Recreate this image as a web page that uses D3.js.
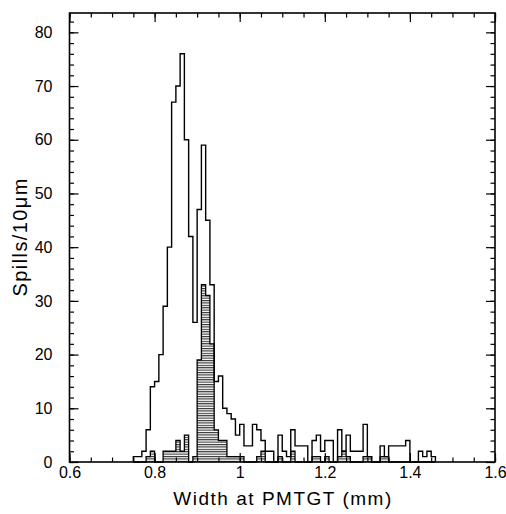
<!DOCTYPE html>
<html>
<head>
<meta charset="utf-8">
<script src="https://cdn.jsdelivr.net/npm/d3@7"></script>
<style>
  body { margin: 0; background: #fff; }
  text { font-family: "Liberation Sans", Arial, Helvetica, sans-serif; fill: #000; }
</style>
</head>
<body>
<div id="chart"></div>
<script>
// histogram bins: 10 um wide, first bin starts at 0.75 mm
var binStart = 0.75;
var binWidth = 0.01;

// all spills
var allSpills = [
  1, 1, 2, 6, 14, 15, 20, 29, 40, 67,
  70, 76, 60, 42, 26, 47, 59, 45, 33, 15,
  16, 10, 9, 8, 5, 7, 3, 3, 7, 6,
  4, 2, 2, 0, 5, 2, 1, 6, 3, 3,
  3, 0, 4, 5, 2, 4, 4, 0, 6, 2,
  5, 2, 2, 2, 7, 1, 0, 0, 3, 1,
  3, 3, 3, 3, 4, 0, 0, 2, 1, 2, 1
];

// hatched subset
var hatchedSpills = [
  0, 0, 0, 1, 2, 0, 0, 2, 2, 2,
  4, 2, 5, 0, 1, 19, 33, 31, 22, 6,
  4, 4, 1, 1, 1, 1, 0, 0, 0, 1,
  2, 0, 0, 0, 1, 0, 0, 2, 0, 0,
  0, 0, 1, 1, 0, 1, 0, 0, 1, 2,
  1, 0, 0, 0, 1, 1, 0, 0, 1, 1,
  0, 0, 0, 0, 0, 0, 0, 0, 0, 0, 0
];

var xTicks = [0.6, 0.8, 1, 1.2, 1.4, 1.6];
var xTickLabels = ["0.6", "0.8", "1", "1.2", "1.4", "1.6"];
var xMinorTicks = d3.range(0, 21).map(function (i) { return 0.6 + i * 0.05; });
var yTicks = [0, 10, 20, 30, 40, 50, 60, 70, 80];
var yMinorTicks = d3.range(0, 42).map(function (i) { return i * 2; });

var width = 506, height = 514;
var plot = { left: 69.5, right: 495, top: 13, bottom: 462 };

var svg = d3.select("#chart")
  .append("svg")
  .attr("width", width)
  .attr("height", height);

var x = d3.scaleLinear().domain([0.6, 1.6]).range([plot.left, plot.right]);
var y = d3.scaleLinear().domain([0, 83.6]).range([plot.bottom, plot.top]);

svg.append("defs")
  .append("pattern")
  .attr("id", "hatch")
  .attr("patternUnits", "userSpaceOnUse")
  .attr("width", 8)
  .attr("height", 2.4)
  .append("line")
  .attr("x1", 0).attr("x2", 8)
  .attr("y1", 0.6).attr("y2", 0.6)
  .attr("stroke", "#000")
  .attr("stroke-width", 0.9);

function stepPoints(counts) {
  var pts = [[binStart, 0]];
  counts.forEach(function (c, i) { pts.push([binStart + i * binWidth, c]); });
  pts.push([binStart + counts.length * binWidth, 0]);
  return pts;
}

var line = d3.line()
  .x(function (d) { return x(d[0]); })
  .y(function (d) { return y(d[1]); })
  .curve(d3.curveStepAfter);

svg.append("path")
  .attr("d", line(stepPoints(hatchedSpills)))
  .attr("fill", "url(#hatch)")
  .attr("stroke", "#000")
  .attr("stroke-width", 1.3);

svg.append("path")
  .attr("d", line(stepPoints(allSpills)))
  .attr("fill", "none")
  .attr("stroke", "#000")
  .attr("stroke-width", 1.4);

// ticks on all four sides, pointing inwards
function ticksOnly(g) {
  g.select(".domain").remove();
  g.selectAll("text").remove();
  g.selectAll("line").attr("stroke-width", 1.2);
}

svg.append("g")
  .attr("transform", "translate(0," + plot.bottom + ")")
  .call(d3.axisBottom(x).tickValues(xMinorTicks).tickSize(-4.5))
  .call(ticksOnly);
svg.append("g")
  .attr("transform", "translate(0," + plot.top + ")")
  .call(d3.axisTop(x).tickValues(xMinorTicks).tickSize(-4.5))
  .call(ticksOnly);
svg.append("g")
  .attr("transform", "translate(0," + plot.top + ")")
  .call(d3.axisTop(x).tickValues(xTicks).tickSize(-9))
  .call(ticksOnly);

var xAxis = svg.append("g")
  .attr("transform", "translate(0," + plot.bottom + ")")
  .call(d3.axisBottom(x).tickValues(xTicks).tickSize(-9).tickPadding(5)
    .tickFormat(function (d, i) { return xTickLabels[i]; }));
xAxis.select(".domain").remove();
xAxis.selectAll("line").attr("stroke-width", 1.2);
xAxis.selectAll("text").attr("font-size", 16);

svg.append("g")
  .attr("transform", "translate(" + plot.left + ",0)")
  .call(d3.axisLeft(y).tickValues(yMinorTicks).tickSize(-4.5))
  .call(ticksOnly);
svg.append("g")
  .attr("transform", "translate(" + plot.right + ",0)")
  .call(d3.axisRight(y).tickValues(yMinorTicks).tickSize(-4.5))
  .call(ticksOnly);
svg.append("g")
  .attr("transform", "translate(" + plot.right + ",0)")
  .call(d3.axisRight(y).tickValues(yTicks).tickSize(-9))
  .call(ticksOnly);

var yAxis = svg.append("g")
  .attr("transform", "translate(" + plot.left + ",0)")
  .call(d3.axisLeft(y).tickValues(yTicks).tickSize(-9).tickPadding(17));
yAxis.select(".domain").remove();
yAxis.selectAll("line").attr("stroke-width", 1.2);
yAxis.selectAll("text").attr("font-size", 16);

// frame
svg.append("rect")
  .attr("x", plot.left)
  .attr("y", plot.top)
  .attr("width", plot.right - plot.left)
  .attr("height", plot.bottom - plot.top)
  .attr("fill", "none")
  .attr("stroke", "#000")
  .attr("stroke-width", 1.6);

svg.append("text")
  .attr("x", (plot.left + plot.right) / 2)
  .attr("y", 505)
  .attr("text-anchor", "middle")
  .attr("font-size", 19)
  .attr("textLength", 218)
  .attr("lengthAdjust", "spacing")
  .text("Width at PMTGT (mm)");

svg.append("text")
  .attr("transform", "translate(27," + ((plot.top + plot.bottom) / 2) + ") rotate(-90)")
  .attr("text-anchor", "middle")
  .attr("font-size", 20)
  .attr("textLength", 118)
  .attr("lengthAdjust", "spacing")
  .text("Spills/10\u03bcm");
</script>
</body>
</html>
